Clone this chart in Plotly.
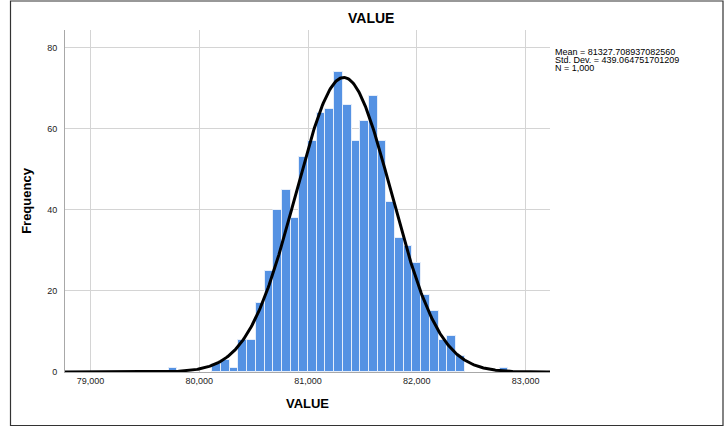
import numpy as np
import plotly.graph_objects as go

# ---- data ----
bin_left = [79720, 80120, 80200, 80280, 80360, 80440, 80520, 80600, 80680, 80760,
            80840, 80920, 81000, 81080, 81160, 81240, 81320, 81400, 81480, 81560,
            81640, 81720, 81800, 81880, 81960, 82040, 82120, 82200, 82280, 82360,
            82760]
counts = [1, 2, 3, 1, 8, 8, 17, 25, 40, 45,
          38, 53, 57, 64, 65, 74, 66, 57, 62, 68,
          57, 42, 33, 31, 27, 19, 15, 8, 9, 4,
          1]
BIN_WIDTH = 80
MEAN = 81327.708937082560
STD = 439.064751701209
N = 1000
x_ticks = [79000, 80000, 81000, 82000, 83000]
x_ticklabels = ["79,000", "80,000", "81,000", "82,000", "83,000"]
y_ticks = [0, 20, 40, 60, 80]
stats_lines = ["Mean = 81327.708937082560", "Std. Dev. = 439.064751701209", "N = 1,000"]

X_RANGE = [78766, 83224]
Y_RANGE = [0, 84.4]

# normal curve implied by the printed statistics
xc = np.linspace(X_RANGE[0], X_RANGE[1], 600)
yc = N * BIN_WIDTH * np.exp(-0.5 * ((xc - MEAN) / STD) ** 2) / (STD * np.sqrt(2 * np.pi))

FONT = "Arial, Liberation Sans, sans-serif"
W, H = 725, 429
L, R, T, B = 65, 175, 30, 57

fig = go.Figure()
fig.add_trace(go.Bar(
    x=bin_left, y=counts, width=BIN_WIDTH, offset=0,
    marker=dict(color="#5592e3", line=dict(color="#e6eefa", width=1)),
    hoverinfo="x+y", showlegend=False,
))
fig.add_trace(go.Scatter(
    x=xc, y=yc, mode="lines", line=dict(color="black", width=3),
    showlegend=False, hoverinfo="skip", cliponaxis=True,
))

pw = W - L - R
ph = H - T - B
def px_x(p):
    return (p - L) / pw
def px_y(p):
    return (H - B - p) / ph

shapes = [dict(type="rect", xref="paper", yref="paper",
               x0=px_x(10.5), x1=px_x(723), y0=px_y(425.5), y1=px_y(1),
               line=dict(color="#333333", width=1.2), fillcolor="rgba(0,0,0,0)", layer="below")]

annotations = [
    dict(text="<b>VALUE</b>", xref="paper", yref="paper", x=px_x(371), y=px_y(18),
         showarrow=False, font=dict(family=FONT, size=14, color="black"),
         xanchor="center", yanchor="middle"),
]
for i, line in enumerate(stats_lines):
    annotations.append(dict(text=line, xref="paper", yref="paper", x=px_x(554), y=px_y(52 + 8 * i),
                            showarrow=False, font=dict(family=FONT, size=9, color="black"),
                            xanchor="left", yanchor="middle", align="left", borderpad=0))

fig.update_layout(
    width=W, height=H,
    margin=dict(l=L, r=R, t=T, b=B, pad=0),
    paper_bgcolor="white", plot_bgcolor="white",
    bargap=0,
    shapes=shapes,
    annotations=annotations,
    font=dict(family=FONT, color="#222222"),
    xaxis=dict(range=X_RANGE, tickvals=x_ticks, ticktext=x_ticklabels,
               showgrid=True, gridcolor="#d4d4d4", gridwidth=1,
               showline=True, linecolor="#a8a8a8", linewidth=1,
               zeroline=False, ticks="", tickfont=dict(size=9, family=FONT, color="#222222"),
               title=dict(text="<b>VALUE</b>", font=dict(size=13, family=FONT, color="black"), standoff=14)),
    yaxis=dict(range=Y_RANGE, tickvals=y_ticks,
               showgrid=True, gridcolor="#d4d4d4", gridwidth=1,
               showline=True, linecolor="#a8a8a8", linewidth=1,
               zeroline=False, ticks="", ticklabelstandoff=5,
               tickfont=dict(size=9, family=FONT, color="#222222"),
               title=dict(text="<b>Frequency</b>", font=dict(size=13, family=FONT, color="black"), standoff=12)),
)

fig.write_html("out.html", config={"displayModeBar": False},
               post_script="document.body.style.margin='0';document.body.style.overflow='hidden';")
